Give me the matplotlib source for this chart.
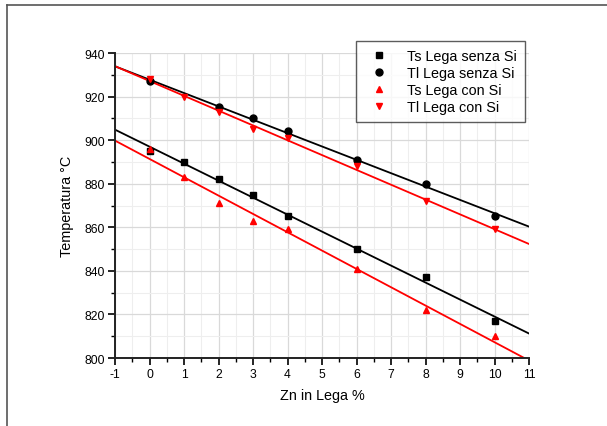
import numpy as np
import matplotlib.pyplot as plt
from matplotlib.lines import Line2D

plt.rcParams['font.family'] = ['Liberation Sans', 'DejaVu Sans']
plt.rcParams['axes.unicode_minus'] = False

# Dati
zn_ts_senza = [0, 1, 2, 3, 4, 6, 8, 10]
ts_senza = [895, 890, 882, 875, 865, 850, 837, 817]

zn_tl_senza = [0, 2, 3, 4, 6, 8, 10]
tl_senza = [927, 915, 910, 904, 891, 880, 865]

zn_ts_con = [0, 1, 2, 3, 4, 6, 8, 10]
ts_con = [896, 883, 871, 863, 859, 841, 822, 810]

zn_tl_con = [0, 1, 2, 3, 4, 6, 8, 10]
tl_con = [928, 920, 913, 905, 901, 888, 872, 859]

x_fit = np.array([-1, 11])

W, H = 607, 427
fig = plt.figure(figsize=(W / 100, H / 100), dpi=100)

# cornice esterna (solo bordo sinistro e superiore visibili)
fig.add_artist(Line2D([7 / W, 7 / W], [0, 1 - 6 / H], color='#555555', lw=1.2))
fig.add_artist(Line2D([7 / W, 1], [1 - 6 / H, 1 - 6 / H], color='#555555', lw=1.2))

ax = fig.add_axes([115 / W, 1 - 359 / H, (529 - 115) / W, (359 - 54) / H])

series = [
    (zn_ts_senza, ts_senza, 's', 'black', 'Ts Lega senza Si'),
    (zn_tl_senza, tl_senza, 'o', 'black', 'Tl Lega senza Si'),
    (zn_ts_con, ts_con, '^', 'red', 'Ts Lega con Si'),
    (zn_tl_con, tl_con, 'v', 'red', 'Tl Lega con Si'),
]

handles = []
for xs, ys, mk, col, lab in series:
    p = np.polyfit(xs, ys, 1)
    ax.plot(x_fit, np.polyval(p, x_fit), color=col, lw=1.3, zorder=2)
    h, = ax.plot(xs, ys, mk, color=col, ms=5, ls='none', label=lab, zorder=3)
    handles.append(h)

ax.set_xlim(-1, 11)
ax.set_ylim(800, 940)
ax.set_xticks(range(-1, 12))
ax.set_xticks(np.arange(-0.5, 11, 1), minor=True)
ax.set_yticks(range(800, 941, 20))
ax.set_yticks(range(810, 940, 20), minor=True)

ax.grid(True, which='major', color='#d9d9d9', lw=0.9)
ax.grid(True, which='minor', color='#eeeeee', lw=0.8)
ax.set_axisbelow(True)

for s in ['top', 'right']:
    ax.spines[s].set_visible(False)
for s in ['left', 'bottom']:
    ax.spines[s].set_linewidth(1.4)
    ax.spines[s].set_color('#222222')

ax.tick_params(which='major', direction='out', length=5, width=1.2, labelsize=8.7, pad=2)
ax.tick_params(which='minor', direction='out', length=3, width=1.0)

ax.set_xlabel('Zn in Lega %', fontsize=10.4, labelpad=6)
ax.set_ylabel('Temperatura °C', fontsize=10.4, labelpad=8)

leg = fig.legend(handles=handles, loc='upper right',
                 bbox_to_anchor=(525 / W, 1 - 42 / H), fontsize=10.4,
                 frameon=True, fancybox=False, edgecolor='#333333',
                 handlelength=2.1, handletextpad=0.9, labelspacing=0.22,
                 borderpad=0.55, borderaxespad=0)
leg.get_frame().set_linewidth(1.0)

fig.savefig('out.png', dpi=100)
